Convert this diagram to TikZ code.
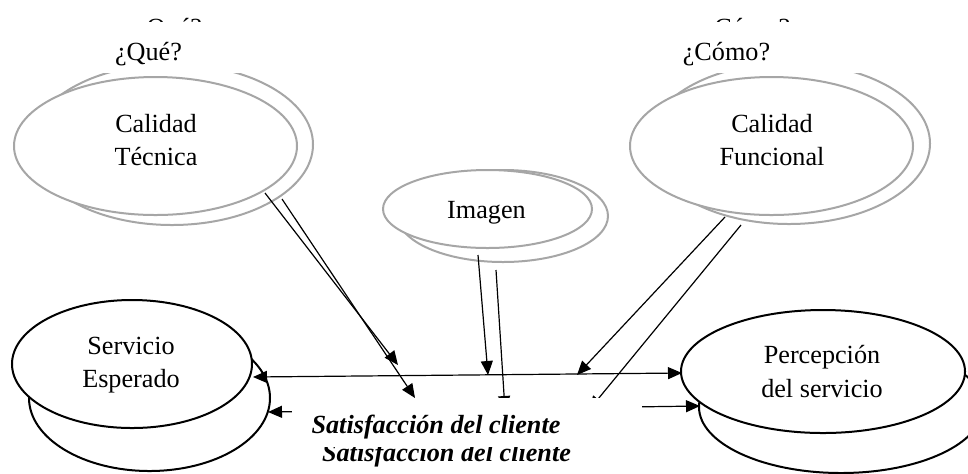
\documentclass[tikz,border=0pt]{standalone}
\usepackage{fontspec}
\setmainfont{Liberation Serif}
\usetikzlibrary{shapes.geometric,arrows.meta}
\definecolor{ringgray}{HTML}{A6A6A6}
\begin{document}
\begin{tikzpicture}[x=0.5pt,y=-0.5pt,
  gring/.style={ellipse,draw=ringgray,line width=1pt,fill=white,inner sep=0pt,outer sep=0pt},
  bring/.style={ellipse,draw=black,line width=1pt,fill=white,inner sep=0pt,outer sep=0pt},
  lbl/.style={inner sep=0pt,anchor=base,font=\fontsize{13.1pt}{16.5pt}\selectfont},
  blbl/.style={lbl,font=\fontsize{13.1pt}{16.5pt}\selectfont\bfseries\itshape},
  conn/.style={line width=0.6pt,-{Triangle[length=7pt,width=6pt]}},
  dconn/.style={line width=0.6pt,{Triangle[length=7pt,width=6pt]}-{Triangle[length=7pt,width=6pt]}},
  cover/.style={fill=white,draw=none}]
\useasboundingbox (0,0) rectangle (968,473);
% back ellipses
\node[gring,minimum width=141pt,minimum height=80.5pt] (ctb) at (172,144.5) {};
\node[gring,minimum width=141pt,minimum height=80.5pt] (cfb) at (789,143.5) {};
\node[gring,minimum width=105pt,minimum height=46pt] (imb) at (503,216) {};
\node[bring,minimum width=120.5pt,minimum height=73pt] (seb) at (149.5,398) {};
\node[bring,minimum width=142pt,minimum height=66pt] (psb) at (841,407) {};
% front ellipses
\node[gring,minimum width=141.5pt,minimum height=69pt] (ct) at (155.5,146) {};
\node[gring,minimum width=141.5pt,minimum height=69pt] (cf) at (771.5,146) {};
\node[gring,minimum width=104.5pt,minimum height=39pt] (im) at (487.5,209) {};
\node[bring,minimum width=120pt,minimum height=64pt] (se) at (132,364) {};
\node[bring,minimum width=142pt,minimum height=61.5pt] (ps) at (823,371.5) {};
% ellipse texts
\node[lbl] (ct1) at (156,132) {Calidad};
\node[lbl] (ct2) at (156,165) {Técnica};
\node[lbl] (cf1) at (772,132) {Calidad};
\node[lbl] (cf2) at (772,165) {Funcional};
\node[lbl] (im1) at (486.5,218) {Imagen};
\node[lbl] (se1) at (131,354) {Servicio};
\node[lbl] (se2) at (131,387) {Esperado};
\node[lbl] (ps1) at (822,363) {Percepción};
\node[lbl] (ps2) at (822,397) {del servicio};
% connector end points
\coordinate (ta0) at (265,193);  \coordinate (ta1) at (398,365);
\coordinate (tb0) at (282,199);  \coordinate (tb1) at (415,398);
\coordinate (ia0) at (478,255);  \coordinate (ia1) at (488,375);
\coordinate (ib0) at (496,270);  \coordinate (ib1) at (505,410);
\coordinate (fa0) at (725,217);  \coordinate (fa1) at (577,375);
\coordinate (fb0) at (741,225);  \coordinate (fb1) at (589,410);
\coordinate (ha0) at (253,377);  \coordinate (ha1) at (682,373);
\coordinate (hb0) at (268,412);  \coordinate (hb1) at (700,406);
% connectors
\draw[conn] (ta0) -- (ta1);
\draw[conn] (tb0) -- (tb1);
\draw[conn] (ia0) -- (ia1);
\draw[conn] (ib0) -- (ib1);
\draw[conn] (fa0) -- (fa1);
\draw[conn] (fb0) -- (fb1);
\draw[dconn] (ha0) -- (ha1);
\draw[dconn] (hb0) -- (hb1);
% ghost texts
\node[lbl] (qg) at (168.5,36) {¿Qué?};
\node[lbl] (cg) at (746.5,36) {¿Cómo?};
\node[blbl] (sg) at (446.5,461) {Satisfacción del cliente};
% covering boxes
\fill[cover] (95,22) rectangle (250,73);
\fill[cover] (680,22) rectangle (875,73);
\fill[cover] (292,397.5) rectangle (642,447);
% main texts
\node[lbl] (q) at (148.5,60) {¿Qué?};
\node[lbl] (c) at (726.5,60) {¿Cómo?};
\node[blbl] (s) at (436,433) {Satisfacción del cliente};
\end{tikzpicture}
\end{document}
